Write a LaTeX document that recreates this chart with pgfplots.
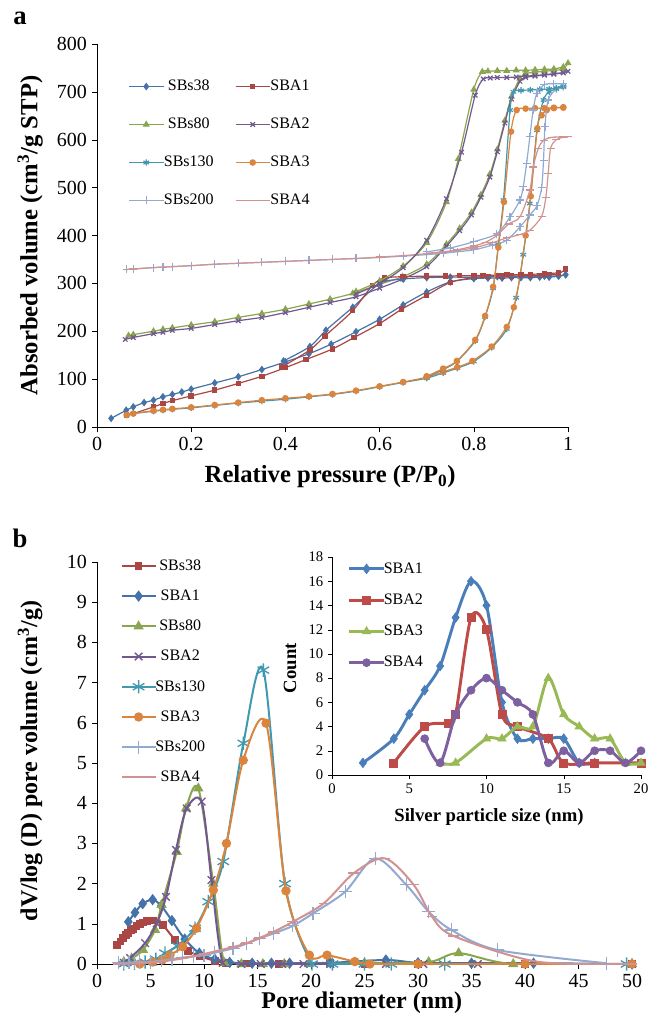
\documentclass[border=0pt]{standalone}
\usepackage{fontspec}
\setmainfont{Liberation Serif}
\usepackage{pgfplots}
\pgfplotsset{compat=1.18}
\definecolor{cblue}{HTML}{4572A7}
\definecolor{cred}{HTML}{AA4643}
\definecolor{cgreen}{HTML}{89A54E}
\definecolor{cpurple}{HTML}{71588F}
\definecolor{cteal}{HTML}{4198AF}
\definecolor{corange}{HTML}{DB843D}
\definecolor{clblue}{HTML}{93A9CF}
\definecolor{cpink}{HTML}{D19392}
\definecolor{iblue}{HTML}{4A7EBB}
\definecolor{ired}{HTML}{BE4B48}
\definecolor{igreen}{HTML}{98B954}
\definecolor{ipurple}{HTML}{7D60A0}
\pgfplotsset{
  /pgfplots/legend image code/.code={\draw[mark repeat=2,mark phase=2,#1] plot coordinates {(0cm,0cm) (0.45cm,0cm) (0.9cm,0cm)};},
  common/.style={
    scale only axis, anchor=south west,
    axis x line*=bottom, axis y line*=left, axis line style={-,black},
    tick align=outside, major tick length=4pt, tick style={black},
    /pgf/number format/assume math mode=true,
    clip mode=individual,
  },
}
\begin{document}
\begin{tikzpicture}
\useasboundingbox (0,0) rectangle (486pt,-767.25pt);
\node[font=\bfseries\fontsize{20}{20}\selectfont] at (15pt,-14pt) {a};
\node[font=\bfseries\fontsize{20}{20}\selectfont] at (15pt,-404pt) {b};

% ---------------- panel a
\begin{axis}[common,
  at={(72.75pt,-320.25pt)}, width=353.25pt, height=287.25pt,
  xmin=0, xmax=1, ymin=0, ymax=800,
  xtick={0,0.2,0.4,0.6,0.8,1}, xticklabels={0,0.2,0.4,0.6,0.8,1},
  ytick={0,100,200,300,400,500,600,700,800},
  tick label style={font=\fontsize{15}{15}\selectfont},
  label style={font=\bfseries\fontsize{18.5}{18.5}\selectfont},
  xlabel={Relative pressure (P/P\textsubscript{0})},
  ylabel={Absorbed volume (cm\textsuperscript{3}/g STP)},
  xlabel style={at={(axis description cs:0.495,-0.13)}, anchor=center},
  ylabel style={at={(axis description cs:-0.142,0.5)}, anchor=center},
  legend columns=2,
  legend style={draw=none, fill=none, at={(0.058,0.92)}, anchor=north west,
    font=\fontsize{12}{12}\selectfont, row sep=15pt,
    /tikz/every odd column/.append style={column sep=-2pt},
    /tikz/every even column/.append style={column sep=14pt}},
  every axis plot/.append style={line width=0.9pt, smooth, mark size=1.7pt},
]
% SBs38
\addplot[cblue, mark=diamond*, mark size=2.2pt] coordinates {(0.03,18) (0.062,35) (0.077,42) (0.1,51) (0.12,56) (0.14,63) (0.16,68) (0.18,73) (0.2,79) (0.25,92) (0.3,105) (0.35,120) (0.4,136) (0.45,153) (0.497,173) (0.55,199) (0.6,225) (0.65,255) (0.7,282) (0.75,303) (0.8,310) (0.83,311) (0.86,311) (0.88,312) (0.9,312) (0.92,312) (0.94,313) (0.96,313) (0.98,315) (0.995,318)};
\addlegendentry{SBs38}
% SBA1
\addplot[cred, mark=square*, mark size=1.6pt] coordinates {(0.063,25) (0.077,28) (0.12,42) (0.14,49) (0.16,55) (0.2,65) (0.25,77) (0.3,91) (0.35,106) (0.4,124) (0.444,141) (0.5,163) (0.546,187) (0.6,216) (0.647,246) (0.7,275) (0.75,302) (0.8,312) (0.83,314) (0.86,315) (0.88,315) (0.9,316) (0.92,316) (0.94,317) (0.96,318) (0.98,320) (0.995,330)};
\addlegendentry{SBA1}
% SBs80
\addplot[cgreen, mark=triangle*, mark size=2.2pt] coordinates {(0.067,191) (0.077,193) (0.12,200) (0.14,204) (0.16,207) (0.2,213) (0.25,220) (0.3,229) (0.35,237) (0.4,246) (0.45,257) (0.495,267) (0.543,279) (0.6,298) (0.649,314) (0.7,340) (0.742,382) (0.77,415) (0.795,448) (0.815,485) (0.834,528) (0.85,580) (0.866,640) (0.88,690) (0.898,728) (0.91,738) (0.93,741) (0.95,743) (0.97,745) (0.99,748) (1.0,760)};
\addlegendentry{SBs80}
% SBA2
\addplot[cpurple, mark=x, mark size=2.4pt] coordinates {(0.06,183) (0.077,187) (0.12,195) (0.14,198) (0.16,202) (0.2,206) (0.25,214) (0.3,222) (0.35,229) (0.4,239) (0.45,250) (0.495,260) (0.55,272) (0.6,290) (0.649,309) (0.7,335) (0.742,378) (0.77,410) (0.795,443) (0.815,480) (0.834,522) (0.85,575) (0.866,635) (0.88,685) (0.898,722) (0.91,730) (0.93,733) (0.95,735) (0.97,737) (0.99,740) (1.0,743)};
\addlegendentry{SBA2}
% SBs130
\addplot[cteal, mark=asterisk, mark size=2.4pt] coordinates {(0.063,25) (0.077,28) (0.12,33) (0.14,35) (0.16,37) (0.2,40) (0.25,45) (0.3,50) (0.35,54) (0.4,58) (0.45,63) (0.5,68) (0.55,75) (0.6,84) (0.65,93) (0.7,102) (0.735,113) (0.765,123) (0.8,137) (0.838,166) (0.87,205) (0.89,270) (0.905,360) (0.919,467) (0.934,620) (0.948,683) (0.96,700) (0.975,706) (0.99,710)};
\addlegendentry{SBs130}
% SBA3
\addplot[corange, mark=*, mark size=2pt] coordinates {(0.063,25) (0.077,28) (0.12,34) (0.14,36) (0.16,38) (0.2,41) (0.25,46) (0.3,51) (0.35,56) (0.4,60) (0.45,64) (0.5,69) (0.55,76) (0.6,85) (0.65,94) (0.7,104) (0.735,115) (0.765,125) (0.797,138) (0.838,168) (0.87,209) (0.885,250) (0.898,314) (0.91,400) (0.921,482) (0.935,624) (0.944,651) (0.955,662) (0.97,666) (0.99,667)};
\addlegendentry{SBA3}
% SBs200
\addplot[clblue, mark=+, mark size=3pt] coordinates {(0.063,329) (0.077,330) (0.12,333) (0.14,334) (0.16,335) (0.2,337) (0.25,340) (0.3,342) (0.35,344) (0.4,346) (0.45,348) (0.5,350) (0.55,352) (0.6,354) (0.65,357) (0.7,360) (0.735,363) (0.765,366) (0.8,370) (0.84,380) (0.87,390) (0.898,418) (0.919,443) (0.934,462) (0.944,500) (0.948,557) (0.951,627) (0.958,683) (0.976,707) (0.99,712)};
\addlegendentry{SBs200}
% SBA4
\addplot[cpink, mark=-, mark size=3pt] coordinates {(0.063,329) (0.077,330) (0.12,333) (0.14,334) (0.16,335) (0.2,337) (0.25,340) (0.3,342) (0.35,344) (0.4,346) (0.45,348) (0.5,350) (0.55,352) (0.6,355) (0.65,358) (0.7,362) (0.735,365) (0.765,369) (0.8,374) (0.84,385) (0.87,395) (0.898,402) (0.919,411) (0.944,440) (0.953,480) (0.958,530) (0.963,582) (0.975,600) (0.99,605) (1.0,606)};
\addlegendentry{SBA4}
% desorption branches
\addplot[cblue, mark=diamond*, mark size=2.2pt, forget plot] coordinates {(0.995,318) (0.98,316) (0.95,315) (0.9,314) (0.85,314) (0.8,313) (0.75,313) (0.7,312) (0.65,309) (0.601,300) (0.543,250) (0.486,202) (0.452,168) (0.396,138)};
\addplot[cred, mark=square*, mark size=1.6pt, forget plot] coordinates {(0.98,322) (0.95,320) (0.92,319) (0.9,318) (0.87,318) (0.85,317) (0.82,317) (0.8,316) (0.77,316) (0.74,315) (0.7,315) (0.65,314) (0.61,311) (0.585,296) (0.543,243) (0.484,190) (0.452,161) (0.392,125)};
\addplot[cgreen, mark=triangle*, mark size=2.2pt, forget plot] coordinates {(0.99,752) (0.97,748) (0.95,747) (0.93,746) (0.91,745) (0.89,745) (0.87,744) (0.85,744) (0.83,743) (0.818,742) (0.8,705) (0.767,560) (0.742,470) (0.7,385) (0.65,336) (0.6,305) (0.55,283)};
\addplot[cpurple, mark=x, mark size=2.4pt, forget plot] coordinates {(0.99,740) (0.97,738) (0.95,736) (0.93,734) (0.91,733) (0.89,731) (0.87,730) (0.85,730) (0.835,729) (0.82,727) (0.803,693) (0.774,574) (0.742,477) (0.7,390) (0.65,333) (0.6,300) (0.55,278)};
\addplot[cteal, mark=asterisk, mark size=2.4pt, forget plot] coordinates {(0.99,712) (0.975,708) (0.96,706) (0.94,705) (0.92,704) (0.9,703) (0.884,700) (0.877,662) (0.863,474) (0.852,380) (0.841,290) (0.824,230) (0.803,180) (0.764,137) (0.735,120) (0.7,104)};
\addplot[corange, mark=*, mark size=2pt, forget plot] coordinates {(0.99,668) (0.97,667) (0.95,666) (0.93,666) (0.91,665) (0.891,662) (0.879,617) (0.864,470) (0.852,375) (0.841,293) (0.824,232) (0.803,182) (0.764,138) (0.735,122) (0.7,106)};
\addplot[clblue, mark=+, mark size=3pt, forget plot] coordinates {(0.99,717) (0.97,717) (0.95,715) (0.934,697) (0.926,662) (0.919,606) (0.912,550) (0.905,502) (0.898,474) (0.877,439) (0.849,404) (0.8,387) (0.75,374) (0.7,366)};
\addplot[cpink, mark=-, mark size=3pt, forget plot] coordinates {(1.0,606) (0.99,606) (0.965,605) (0.948,599) (0.937,582) (0.926,543) (0.919,495) (0.898,439) (0.874,424) (0.849,400) (0.825,386) (0.8,378) (0.764,370) (0.735,366) (0.7,363)};
\end{axis}

% ---------------- panel b
\begin{axis}[common,
  at={(72.75pt,-723pt)}, width=401.25pt, height=301.5pt,
  xmin=0, xmax=50, ymin=0, ymax=10,
  xtick={0,5,...,50}, ytick={0,1,...,10},
  tick label style={font=\fontsize{15}{15}\selectfont},
  label style={font=\bfseries\fontsize{18}{18}\selectfont},
  xlabel={Pore diameter (nm)},
  ylabel={dV/log (D) pore volume (cm\textsuperscript{3}/g)},
  xlabel style={at={(axis description cs:0.495,-0.097)}, anchor=center},
  ylabel style={at={(axis description cs:-0.125,0.505)}, anchor=center},
  legend style={draw=none, fill=none, at={(0.036,1.02)}, anchor=north west,
    font=\fontsize{12}{12}\selectfont, row sep=9.2pt,
    /tikz/every odd column/.append style={column sep=-3pt}},
  every axis plot/.append style={line width=1.5pt, smooth, mark size=3pt, mark options={line width=1pt}},
]
\addplot[cred, mark=square*, mark size=2.4pt] coordinates {(1.9,0.47) (2.2,0.56) (2.46,0.64) (2.7,0.72) (2.93,0.78) (3.2,0.84) (3.4,0.88) (3.7,0.94) (4.0,0.99) (4.3,1.03) (4.64,1.07) (5.25,1.08) (6.14,0.97) (7.3,0.6) (8.5,0.33) (9.6,0.2) (11,0.08) (12,0.03) (14,0.01) (17,0.0) (21.8,0.02) (25,0) (30,0) (40,0) (50,0)};
\addlegendentry{SBs38}
\addplot[cblue, mark=diamond*, mark size=3.5pt] coordinates {(2.93,1.05) (3.55,1.28) (4.27,1.50) (5.2,1.60) (6.0,1.45) (7.0,1.08) (8.2,0.62) (9.56,0.27) (11,0.12) (12.4,0.04) (14.5,0.02) (16.3,0.02) (18,0.02) (21.8,0.03) (27,0.1) (30,0.03) (35,0.02) (40.8,0.02) (50,0)};
\addlegendentry{SBA1}
\addplot[cgreen, mark=triangle*, mark size=3.5pt] coordinates {(2.5,0.05) (3.24,0.14) (4.3,0.35) (5.42,0.85) (6.04,1.47) (7.45,2.79) (8.32,3.87) (9.47,4.37) (10.87,2.0) (11.9,0.03) (13.5,0.0) (15.5,0.0) (17.5,0.0) (19.8,0) (25,0.02) (31,0.05) (33.8,0.27) (38.9,0.0) (50,0)};
\addlegendentry{SBs80}
\addplot[cpurple, mark=x, mark size=4pt] coordinates {(2.5,0.03) (3.1,0.15) (4.5,0.52) (5.58,1.01) (6.45,1.67) (7.38,2.84) (8.38,3.87) (9.78,4.04) (10.7,2.09) (11.75,0.03) (13.5,0) (15.3,0) (17.3,0) (19.3,0) (21.8,0) (27,0) (30.5,0) (35.6,0) (50,0)};
\addlegendentry{SBA2}
\addplot[cteal, mark=asterisk, mark size=5pt] coordinates {(2.5,0) (3.5,0.02) (4.5,0.05) (5.5,0.12) (6.36,0.27) (7.5,0.45) (9.16,0.89) (10.4,1.55) (11.8,2.55) (13.68,5.49) (15.55,7.31) (17.57,2.0) (20.1,0.0) (22,0) (25,0) (27.5,0) (32.5,0) (49.5,0)};
\addlegendentry{SBs130}
\addplot[corange, mark=*, mark size=3pt] coordinates {(4,0.0) (5.2,0.05) (6.1,0.1) (6.82,0.22) (8.0,0.43) (9.3,0.89) (10.87,1.84) (12.1,3.0) (13.67,5.07) (15.8,5.99) (17.66,1.82) (19.85,0.22) (21.5,0.22) (24.1,0.06) (25.5,0.0) (30,0) (40,0) (50,0)};
\addlegendentry{SBA3}
\addplot[clblue, mark=+, mark size=5pt] coordinates {(2,0.03) (2.5,0.03) (3,0.03) (3.5,0.04) (4,0.05) (5,0.05) (6,0.08) (7,0.12) (8,0.16) (9,0.19) (10,0.22) (11,0.28) (12.7,0.39) (14,0.51) (15.2,0.64) (16.5,0.76) (18.3,0.95) (20.2,1.26) (23.2,1.8) (26,2.63) (28.9,1.97) (31,1.3) (33.1,0.85) (37.4,0.35) (47.6,0.02)};
\addlegendentry{SBs200}
\addplot[cpink, mark=-, mark size=4pt] coordinates {(2,0) (4,0.02) (6,0.06) (8,0.14) (10,0.25) (12.7,0.42) (14,0.52) (15.2,0.65) (16.5,0.8) (18.3,1.05) (21.2,1.51) (24.0,2.26) (26.9,2.63) (29.6,1.97) (31.3,1.18) (33.3,0.7) (41.1,0.06) (50,0)};
\addlegendentry{SBA4}
\end{axis}

% ---------------- inset
\begin{axis}[common,
  at={(249pt,-581.25pt)}, width=231.75pt, height=163.5pt,
  xmin=0, xmax=20, ymin=0, ymax=18,
  xtick={0,5,...,20}, ytick={0,2,...,18},
  major tick length=3pt,
  tick label style={font=\fontsize{11}{11}\selectfont},
  label style={font=\bfseries\fontsize{14}{14}\selectfont},
  xlabel={Silver particle size (nm)},
  ylabel={Count},
  xlabel style={at={(axis description cs:0.508,-0.193)}, anchor=center},
  ylabel style={at={(axis description cs:-0.136,0.49)}, anchor=center},
  legend style={draw=none, fill=none, at={(0.038,1.0)}, anchor=north west,
    font=\fontsize{12}{12}\selectfont, row sep=10pt,
    /tikz/every odd column/.append style={column sep=-3pt}},
  every axis plot/.append style={line width=2.2pt, smooth, mark size=3pt, mark options={line width=0.5pt}},
]
\addplot[iblue, mark=diamond*, mark size=3.6pt] coordinates {(2,1) (4,3) (5,5) (6,7) (7,9) (8,13) (9,16) (10,14) (11,6) (12,3) (13,3) (14,3) (15,3) (16,1) (17,1)};
\addlegendentry{SBA1}
\addplot[ired, mark=square*, mark size=3pt] coordinates {(4,1) (6,4) (7.5,4.3) (8,5) (9,13) (10,12) (11,5) (12,4) (14,3) (15,1) (17,1) (20,1)};
\addlegendentry{SBA2}
\addplot[igreen, mark=triangle*, mark size=3.6pt] coordinates {(7,1) (8,1) (10,3) (11,3) (12,4) (13,4) (14,8) (15,5) (16,4) (17,3) (18,3) (19,1) (20,1)};
\addlegendentry{SBA3}
\addplot[ipurple, mark=*, mark size=3pt] coordinates {(6,3) (7,1) (8,5) (9,7) (10,8) (11,7) (12,6) (13,5) (14,1) (15,2) (16,1) (17,2) (18,2) (19,1) (20,2)};
\addlegendentry{SBA4}
\end{axis}
\end{tikzpicture}
\end{document}
